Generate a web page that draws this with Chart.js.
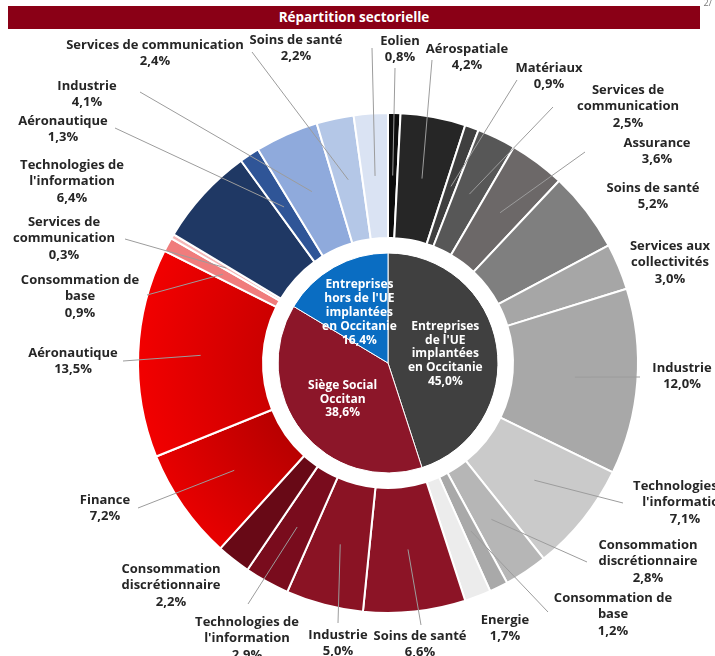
<!DOCTYPE html>
<html>
<head>
<meta charset="utf-8">
<script src="https://cdn.jsdelivr.net/npm/chart.js@4.4.1/dist/chart.umd.min.js"></script>
<style>
  body { margin: 0; background: #fff; font-family: "Open Sans", sans-serif; }
  #wrap { position: relative; width: 715px; height: 656px; overflow: hidden; }
  #title { position: absolute; left: 8px; top: 6px; width: 692px; height: 23px; background: #8a0016;
           color: #fff; font-weight: bold; font-size: 13.5px; line-height: 23px; text-align: center; }
  #page { position: absolute; right: 3px; top: -4px; font-size: 9px; color: #777; }
  canvas { position: absolute; left: 0; top: 0; }
</style>
</head>
<body>
<div id="wrap">
  <canvas id="chart" width="715" height="656"></canvas>
  <div id="title">Répartition sectorielle</div>
  <div id="page">2/</div>
</div>
<script>
// outer ring, clockwise from 12 o'clock
const sectors = [
  'Eolien', 'Aérospatiale', 'Matériaux', 'Services de\ncommunication', 'Assurance',
  'Soins de santé', 'Services aux\ncollectivités', 'Industrie', 'Technologies de\nl\'information',
  'Consommation\ndiscrétionnaire', 'Consommation de\nbase', 'Energie',
  'Soins de santé', 'Industrie', 'Technologies de\nl\'information', 'Consommation\ndiscrétionnaire',
  'Finance', 'Aéronautique', 'Consommation de\nbase', 'Services de\ncommunication',
  'Technologies de\nl\'information', 'Aéronautique', 'Industrie', 'Services de communication', 'Soins de santé'
];
const sectorValues = [
  0.8, 4.2, 0.9, 2.5, 3.6, 5.2, 3.0, 12.0, 7.1, 2.8, 1.2, 1.7,
  6.6, 5.0, 2.9, 2.2, 7.2, 13.5, 0.9, 0.3,
  6.4, 1.3, 4.1, 2.4, 2.2
];
const sectorColors = [
  '#0d0d0d', '#262626', '#3f3f3f', '#575757', '#6c6868', '#7f7f7f', '#a6a6a6', '#a8a8a8', '#cacaca', '#b6b6b6', '#a9a9a9', '#ececec',
  '#8c1426', '#8a1324', '#790c1d', '#680916', '#e80000', '#f20000', '#f07c7c', '#f6b8b8',
  '#1f3864', '#2f5597', '#8faadc', '#b4c7e7', '#dae3f3'
];
// darker inner tone for the two shaded red slices
const sectorShade = { 16: '#b80000', 17: '#cc0000' };

// inner pie
const groups = ['Entreprises\nde l\'UE\nimplantées\nen Occitanie', 'Siège Social\nOccitan', 'Entreprises\nhors de l\'UE\nimplantées\nen Occitanie'];
const groupValues = [45.0, 38.6, 16.4];
const groupColors = ['#404040', '#8c1629', '#0a6dc2'];

// label placement: [text x, first line y, leader start x, leader start y]
const labelLayout = [
  [400, 41, 395, 68], [467, 49, 432, 60], [549, 68, 517, 80], [628, 90, 553, 107], [657, 143, 585, 152],
  [653, 188], [670, 246], [682, 368, 640, 377], [685, 486, 623, 503], [648, 545, 587, 562],
  [613, 598, 548, 612], [505, 620],
  [420, 636, 421, 625], [338, 635, 338, 623], [247, 622, 248, 604], [171, 569],
  [105, 500, 138, 508], [73, 353, 123, 361], [80, 280, 147, 295], [64, 222, 125, 239],
  [72, 165], [63, 121, 115, 128], [87, 86, 140, 92], [155, 45, 252, 52], [296, 40, 372, 48]
];

const pct = v => v.toFixed(1).replace('.', ',') + '%';

function sectorFill(c) {
  const i = c.dataIndex;
  const shade = sectorShade[i];
  const chart = c.chart;
  const ctrl = chart.getDatasetMeta(0).controller;
  const area = chart.chartArea;
  if (!shade || !area || !ctrl || !ctrl.outerRadius) return sectorColors[i];
  const cx = (area.left + area.right) / 2;
  const cy = (area.top + area.bottom) / 2;
  const g = chart.ctx.createRadialGradient(cx, cy, ctrl.innerRadius, cx, cy, ctrl.outerRadius);
  g.addColorStop(0, shade);
  g.addColorStop(1, sectorColors[i]);
  return g;
}

const labelPlugin = {
  id: 'labels',
  afterDatasetsDraw(chart) {
    const ctx = chart.ctx;
    ctx.save();
    ctx.textAlign = 'center';
    ctx.textBaseline = 'middle';

    // outer labels with leader lines
    chart.getDatasetMeta(0).data.forEach((arc, i) => {
      const [tx, ty, sx, sy] = labelLayout[i];
      if (sx !== undefined) {
        const p = arc.getCenterPoint();
        ctx.strokeStyle = '#9c9c9c';
        ctx.lineWidth = 1;
        ctx.beginPath();
        ctx.moveTo(sx, sy);
        ctx.lineTo(p.x, p.y);
        ctx.stroke();
      }
      const lines = sectors[i].split('\n').concat(pct(sectorValues[i]));
      ctx.fillStyle = '#262626';
      ctx.font = 'bold 13px "Open Sans"';
      lines.forEach((t, k) => ctx.fillText(t, tx, ty + k * 16.5));
    });

    // inner pie labels
    chart.getDatasetMeta(2).data.forEach((arc, i) => {
      const { x, y, startAngle, endAngle } = arc.getProps(['x', 'y', 'startAngle', 'endAngle']);
      const mid = (startAngle + endAngle) / 2;
      const px = x + Math.cos(mid) * 58;
      const py = y + Math.sin(mid) * 58;
      const lines = groups[i].split('\n').concat(pct(groupValues[i]));
      const lh = 13.8;
      ctx.fillStyle = '#fff';
      ctx.font = 'bold 12px "Open Sans"';
      lines.forEach((t, k) => ctx.fillText(t, px, py - (lines.length - 1) * lh / 2 + k * lh));
    });
    ctx.restore();
  }
};

new Chart(document.getElementById('chart'), {
  type: 'pie',
  data: {
    labels: sectors,
    datasets: [
      { data: sectorValues, backgroundColor: sectorFill, borderColor: '#fff', borderWidth: 2, weight: 125 },
      { data: [1], backgroundColor: '#fff', borderWidth: 0, weight: 15 },
      { data: groupValues, backgroundColor: groupColors, borderColor: '#fff', borderWidth: 1, weight: 110 }
    ]
  },
  options: {
    responsive: false,
    animation: false,
    layout: { padding: { left: 137, top: 112, right: 76, bottom: 42 } },
    plugins: {
      legend: { display: false },
      tooltip: { enabled: false }
    }
  },
  plugins: [labelPlugin]
});
</script>
</body>
</html>
